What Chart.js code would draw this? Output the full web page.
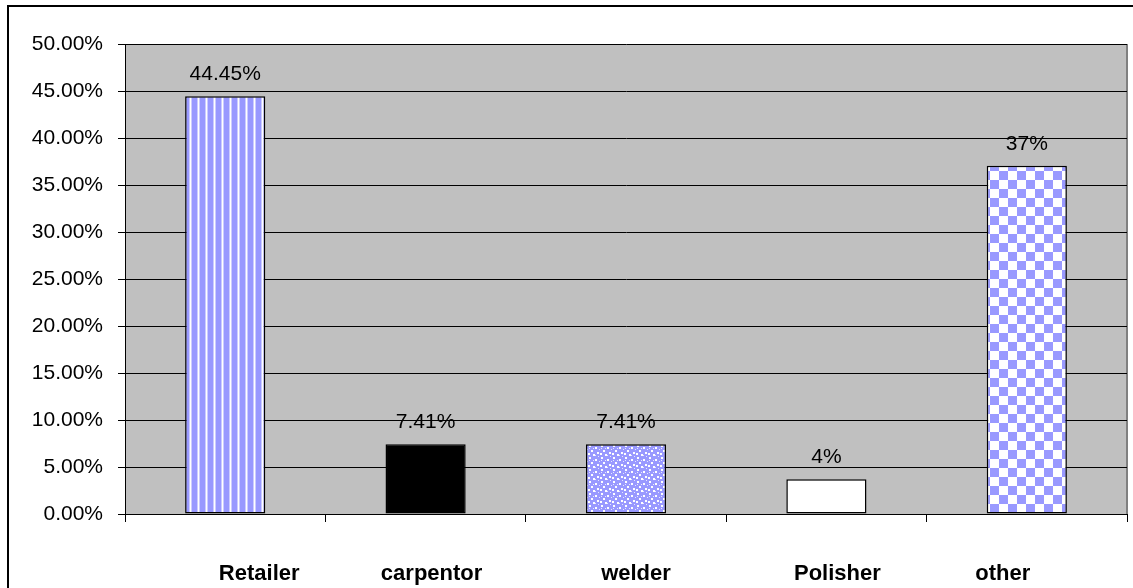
<!DOCTYPE html>
<html>
<head>
<meta charset="utf-8">
<script src="https://cdn.jsdelivr.net/npm/chart.js@4/dist/chart.umd.min.js"></script>
<style>
  html, body { margin: 0; padding: 0; background: #fff; }
  canvas { display: block; }
</style>
</head>
<body>
<canvas id="jobs" width="1133" height="588"></canvas>
<script>
const categories = ['Retailer', 'carpentor', 'welder', 'Polisher', 'other'];
const shares = [44.45, 7.41, 7.41, 3.7, 37.04];
const shareLabels = ['44.45%', '7.41%', '7.41%', '4%', '37%'];
const yTicks = [0, 5, 10, 15, 20, 25, 30, 35, 40, 45, 50];

// the category names sit a little off-centre in the original
const labelNudge = [34, 6, 10, 11, -24];

function makePattern(size, paint) {
    const c = document.createElement('canvas');
    c.width = size; c.height = size;
    const g = c.getContext('2d');
    paint(g);
    return g.createPattern(c, 'repeat');
}

const stripes = makePattern(8, g => {
    g.fillStyle = '#9999ff'; g.fillRect(0, 0, 8, 8);
    g.fillStyle = '#ccccff'; g.fillRect(5, 0, 1, 8); g.fillRect(7, 0, 1, 8);
    g.fillStyle = '#ffffff'; g.fillRect(6, 0, 1, 8);
});
const dots = makePattern(12, g => {
    g.fillStyle = '#9999ff'; g.fillRect(0, 0, 12, 12);
    g.fillStyle = '#ffffff';
    [[1, 1], [7, 3], [3, 6], [9, 8], [5, 10], [0, 9]].forEach(p => g.fillRect(p[0], p[1], 2, 2));
    g.fillStyle = '#e6e6ff';
    [[10, 0], [5, 4], [1, 4], [11, 5], [7, 11]].forEach(p => g.fillRect(p[0], p[1], 1, 1));
});
const checks = makePattern(18, g => {
    g.fillStyle = '#ffffff'; g.fillRect(0, 0, 18, 18);
    g.fillStyle = '#9999ff'; g.fillRect(0, 0, 9, 9); g.fillRect(9, 9, 9, 9);
});

const plotBackground = {
    id: 'plotBackground',
    beforeDraw(chart) {
        const { ctx, chartArea: a } = chart;
        ctx.save();
        ctx.strokeStyle = '#000';
        ctx.lineWidth = 2;
        ctx.strokeRect(8, 6, 1200, 700);
        ctx.fillStyle = '#c0c0c0';
        ctx.fillRect(a.left, a.top, a.right - a.left, a.bottom - a.top);
        ctx.strokeStyle = '#808080';
        ctx.lineWidth = 2;
        ctx.beginPath();
        ctx.moveTo(a.right, a.top);
        ctx.lineTo(a.right, a.bottom);
        ctx.stroke();
        ctx.restore();
    }
};

const valueLabels = {
    id: 'valueLabels',
    afterDatasetsDraw(chart) {
        const { ctx } = chart;
        ctx.save();
        ctx.font = '21px "Liberation Sans", Arial, sans-serif';
        ctx.fillStyle = '#000';
        ctx.textAlign = 'center';
        ctx.textBaseline = 'alphabetic';
        chart.getDatasetMeta(0).data.forEach((bar, i) => {
            ctx.fillText(shareLabels[i], bar.x, bar.y - 16);
        });
        ctx.restore();
    }
};

const categoryLabels = {
    id: 'categoryLabels',
    afterDraw(chart) {
        const { ctx } = chart;
        const x = chart.scales.x;
        ctx.save();
        ctx.font = 'bold 22px "Liberation Sans", Arial, sans-serif';
        ctx.fillStyle = '#000';
        ctx.textAlign = 'center';
        ctx.textBaseline = 'alphabetic';
        categories.forEach((name, i) => {
            ctx.fillText(name, x.getPixelForTick(i) + labelNudge[i], x.bottom - 8);
        });
        ctx.restore();
    }
};

new Chart(document.getElementById('jobs'), {
    type: 'bar',
    data: {
        labels: categories,
        datasets: [{
            data: shares,
            backgroundColor: [stripes, '#000000', dots, '#ffffff', checks],
            borderColor: '#000',
            borderWidth: 1.5,
            borderSkipped: false,
            barPercentage: 0.4,
            categoryPercentage: 1
        }]
    },
    options: {
        responsive: false,
        animation: false,
        layout: { padding: { left: 0, top: 44, right: 6, bottom: 0 } },
        plugins: { legend: { display: false }, tooltip: { enabled: false } },
        scales: {
            x: {
                afterFit(s) { s.height = 74; },
                grid: { offset: true, drawOnChartArea: false, drawTicks: true, tickLength: 8, color: '#000', lineWidth: 1 },
                border: { display: true, color: '#000', width: 1 },
                ticks: { display: false }
            },
            y: {
                min: 0,
                max: 50,
                afterFit(s) { s.width = 125; },
                afterBuildTicks(s) { s.ticks = yTicks.map(v => ({ value: v })); },
                grid: { color: '#000', lineWidth: 1, drawTicks: true, tickLength: 7 },
                border: { display: true, color: '#000', width: 1 },
                ticks: {
                    color: '#000',
                    padding: 15,
                    font: { family: '"Liberation Sans", Arial, sans-serif', size: 21 },
                    callback: v => v.toFixed(2) + '%'
                }
            }
        }
    },
    plugins: [plotBackground, valueLabels, categoryLabels]
});
</script>
</body>
</html>
